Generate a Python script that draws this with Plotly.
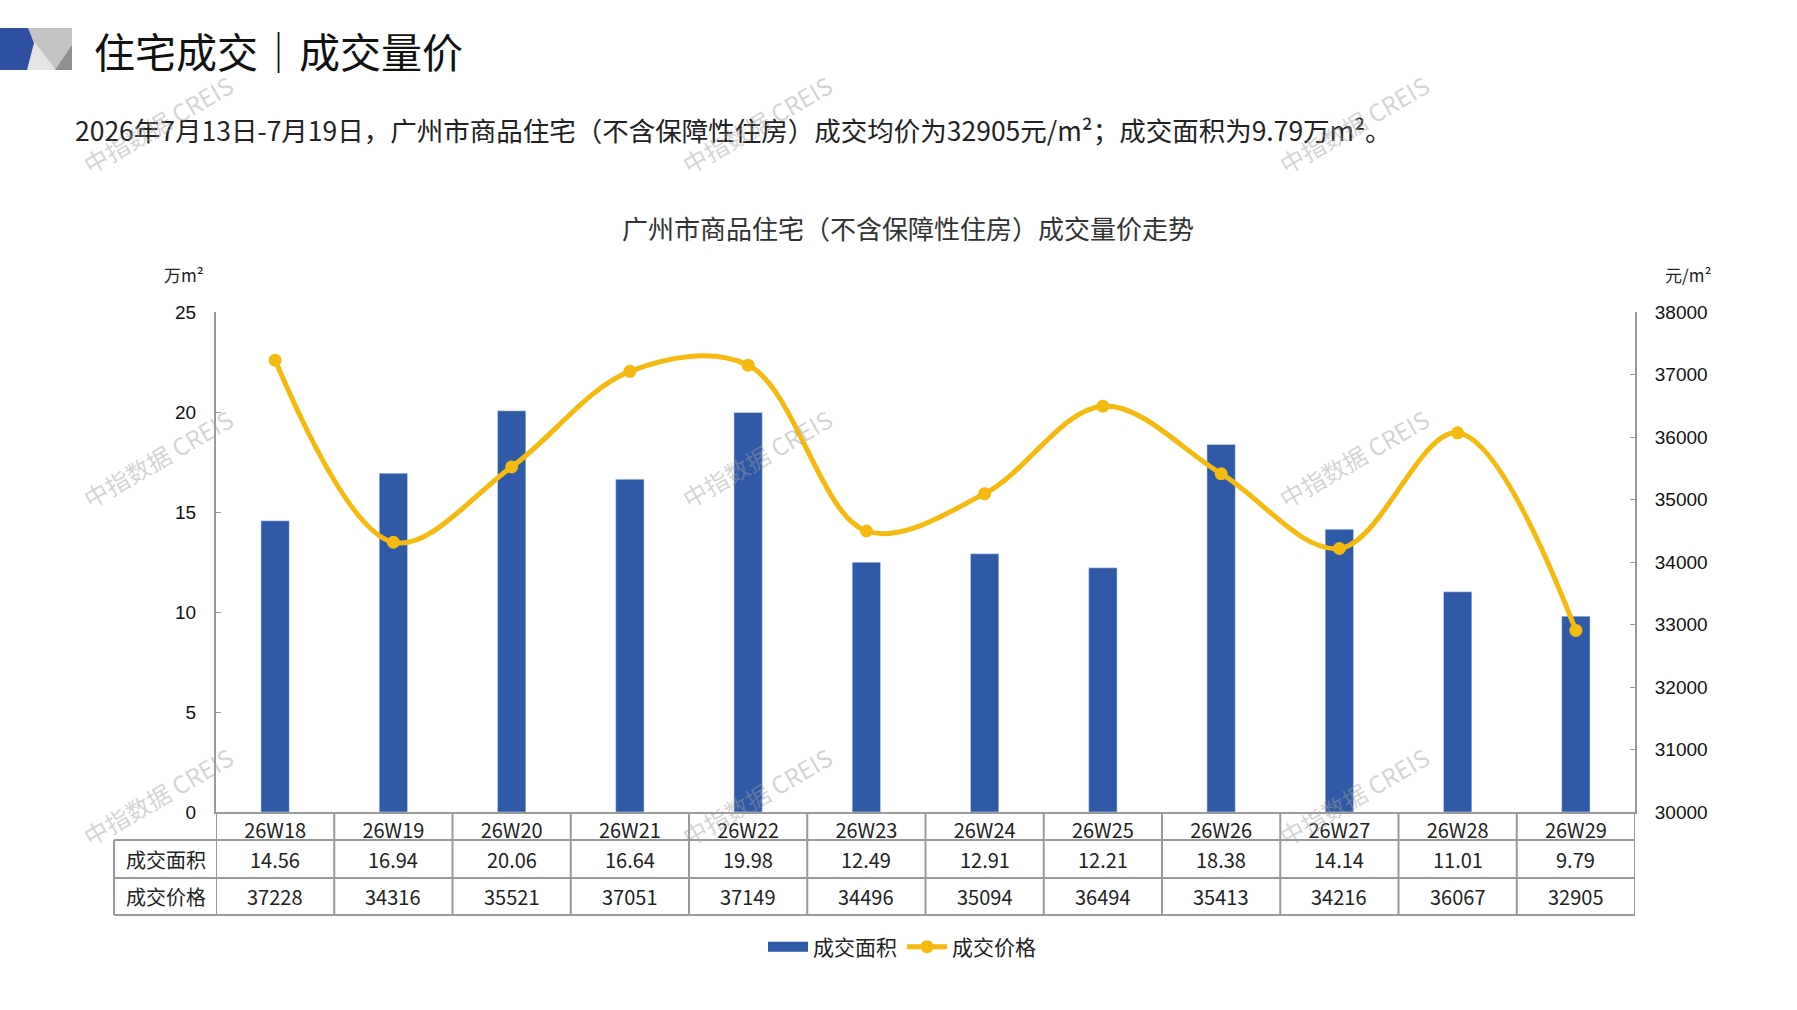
import plotly.graph_objects as go

# ----- data -----
weeks = ["26W18", "26W19", "26W20", "26W21", "26W22", "26W23",
         "26W24", "26W25", "26W26", "26W27", "26W28", "26W29"]
area = [14.56, 16.94, 20.06, 16.64, 19.98, 12.49, 12.91, 12.21, 18.38, 14.14, 11.01, 9.79]
price = [37228, 34316, 35521, 37051, 37149, 34496, 35094, 36494, 35413, 34216, 36067, 32905]

row_labels = ["成交面积", "成交价格"]
page_title = "住宅成交｜成交量价"
summary = "2026年7月13日-7月19日，广州市商品住宅（不含保障性住房）成交均价为32905元/m²；成交面积为9.79万m²。"
chart_title = "广州市商品住宅（不含保障性住房）成交量价走势"

BLUE = "#2E5AA7"
YELLOW = "#F5B90F"
GRID = "#9a9a9a"
CJK = "Noto Sans CJK SC"
LATIN = "Liberation Sans"

# page geometry in pixels
W, H = 1797, 1010
L, R, T, B = 216, 1635, 312, 812


def px(x, y):
    # pixel position -> paper coords
    return (x - L) / (R - L), (B - y) / (B - T)


def path(points):
    pts = [px(x, y) for x, y in points]
    return "M" + "L".join(f"{a:.5f},{b:.5f}" for a, b in pts) + "Z"


def note(text, x, y, size, color="#222222", family=CJK, xanchor="center", **kw):
    return dict(text=text, x=x, y=y, xanchor=xanchor, yanchor="middle", showarrow=False,
                font=dict(family=family, size=size, color=color), **kw)


fig = go.Figure()

fig.add_trace(go.Bar(
    x=weeks, y=area, name="成交面积", marker_color=BLUE,
    showlegend=False, legendgroup="area", yaxis="y"
))
# legend entry drawn as wide bar swatch
fig.add_trace(go.Scatter(
    x=[None], y=[None], mode="lines", name="成交面积",
    line=dict(color=BLUE, width=11), legendgroup="area"
))
fig.add_trace(go.Scatter(
    x=weeks, y=price, name="成交价格", yaxis="y2",
    mode="lines+markers",
    line=dict(color=YELLOW, width=5, shape="spline", smoothing=1.0),
    marker=dict(color=YELLOW, size=13)
))

shapes = []
# logo
shapes.append(dict(type="path", xref="paper", yref="paper", line_width=0,
                   fillcolor="#c4c4c4", path=path([(20, 28), (72, 28), (72, 70), (20, 70)])))
shapes.append(dict(type="path", xref="paper", yref="paper", line_width=0,
                   fillcolor="#e4e4e4", path=path([(24, 28), (56, 70), (20, 70)])))
shapes.append(dict(type="path", xref="paper", yref="paper", line_width=0,
                   fillcolor="#8f8f8f", path=path([(72, 45), (72, 70), (55, 70)])))
shapes.append(dict(type="path", xref="paper", yref="paper", line_width=0,
                   fillcolor="#2F4FA2", path=path([(0, 28), (28, 28), (34, 43), (27, 70), (0, 70)])))

# data table grid under the x axis
row_y = [840, 878, 915]
x_left = px(114, 0)[0]
for yy in row_y:
    shapes.append(dict(type="line", xref="paper", yref="paper",
                       x0=x_left, x1=1.0, y0=px(0, yy)[1], y1=px(0, yy)[1],
                       line=dict(color=GRID, width=2)))
shapes.append(dict(type="line", xref="paper", yref="paper",
                   x0=x_left, x1=x_left, y0=px(0, row_y[0])[1], y1=px(0, row_y[-1])[1],
                   line=dict(color=GRID, width=2)))
for i in range(len(weeks) + 1):
    shapes.append(dict(type="line", xref="x", yref="paper",
                       x0=i - 0.5, x1=i - 0.5, y0=0, y1=px(0, row_y[-1])[1],
                       line=dict(color=GRID, width=2)))

annotations = []
tx, ty = px(92, 50)
annotations.append(note(page_title, tx, ty, 41, "#111111", xanchor="left", xref="paper", yref="paper"))
sx, sy = px(73, 130)
annotations.append(note(summary, sx, sy, 26.5, xanchor="left", xref="paper", yref="paper"))
cx, cy = px(908, 227)
annotations.append(note(chart_title, cx, cy, 26, "#333333", xref="paper", yref="paper"))
ux, uy = px(184, 275)
annotations.append(note("万m²", ux, uy, 17, xref="paper", yref="paper"))
ux, uy = px(1688, 275)
annotations.append(note("元/m²", ux, uy, 17, xref="paper", yref="paper"))

# table cells
row_centers = [(row_y[0] + row_y[1]) / 2, (row_y[1] + row_y[2]) / 2]
rows = [[f"{v:.2f}" for v in area], [str(v) for v in price]]
lx = px(166, 0)[0]
for label, yc, vals in zip(row_labels, row_centers, rows):
    ry = px(0, yc)[1]
    annotations.append(note(label, lx, ry, 20, xref="paper", yref="paper"))
    for wk, v in zip(weeks, vals):
        annotations.append(note(v, wk, ry, 20, xref="x", yref="paper"))

# watermark
for wx in [157, 756, 1353]:
    for wy in [124, 458, 796]:
        mx, my = px(wx, wy)
        annotations.append(note("中指数据 CREIS", mx, my, 24, "rgba(160,160,160,0.45)",
                                xref="paper", yref="paper", textangle=-30))

legend_y = px(0, 947)[1]
legend_x = px(902, 0)[0]

fig.update_layout(
    width=W, height=H,
    margin=dict(l=L, r=W - R, t=T, b=H - B),
    paper_bgcolor="white", plot_bgcolor="white",
    bargap=0.76,
    xaxis=dict(type="category", showgrid=False, showline=True, linecolor=GRID, linewidth=2,
               ticks="", tickfont=dict(family=CJK, size=20, color="#222222"),
               range=[-0.5, len(weeks) - 0.5]),
    yaxis=dict(range=[0, 25], dtick=5, showgrid=False, zeroline=False,
               showline=True, linecolor=GRID, linewidth=2,
               ticks="inside", ticklen=5, tickcolor=GRID, ticklabelstandoff=14,
               tickfont=dict(family=LATIN, size=19, color="#111111")),
    yaxis2=dict(range=[30000, 38000], dtick=1000, tickformat="d", overlaying="y", side="right",
                showgrid=False, zeroline=False, showline=True, linecolor=GRID, linewidth=2,
                ticks="inside", ticklen=5, tickcolor=GRID, ticklabelstandoff=14,
                tickfont=dict(family=LATIN, size=19, color="#111111")),
    legend=dict(orientation="h", x=legend_x, y=legend_y, xanchor="center", yanchor="middle",
                font=dict(family=CJK, size=21, color="#222222"), itemwidth=40),
    shapes=shapes,
    annotations=annotations,
)

# drop the default page margin so the figure sits at the window's corner
fig.write_html("out.html", config={"displayModeBar": False},
               post_script="document.body.style.margin='0';")
